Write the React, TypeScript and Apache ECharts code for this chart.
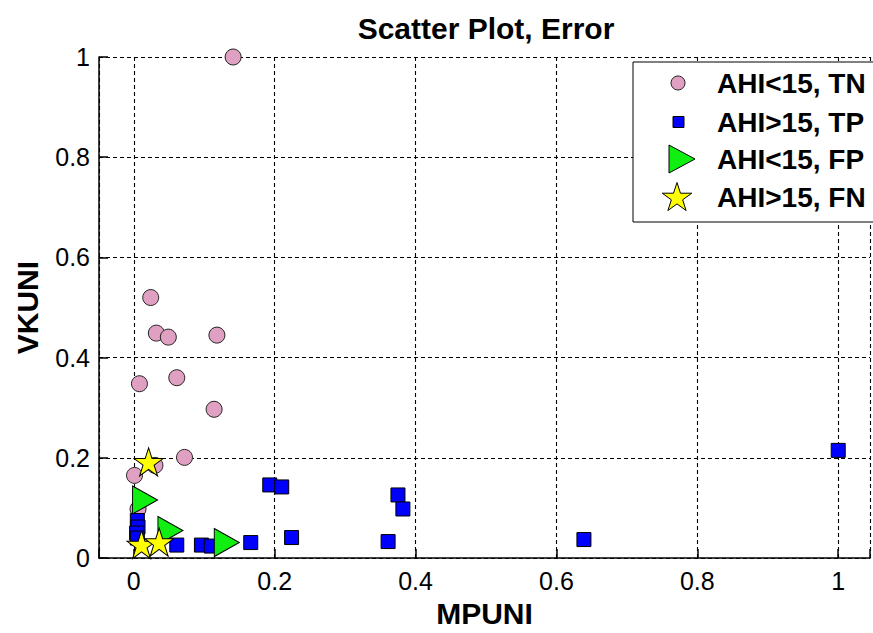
import React, { useEffect, useRef } from "react";
import * as echarts from "echarts";

const TITLE = "Scatter Plot, Error";
const X_NAME = "MPUNI";
const Y_NAME = "VKUNI";
const SERIES_NAMES = ["AHI<15, TN", "AHI>15, TP", "AHI<15, FP", "AHI>15, FN"];

const tnX = [0.141, 0.024, 0.032, 0.049, 0.118, 0.008, 0.061, 0.114, 0.072, 0.001, 0.006, 0.03];
const tnY = [1.0, 0.52, 0.449, 0.441, 0.445, 0.348, 0.36, 0.297, 0.201, 0.165, 0.098, 0.185];

const tpX = [0.193, 0.21, 0.061, 0.096, 0.11, 0.166, 0.224, 0.375, 0.382, 0.361, 0.639, 1.0, 0.005, 0.006, 0.004, 0.005];
const tpY = [0.146, 0.142, 0.026, 0.026, 0.024, 0.031, 0.041, 0.126, 0.098, 0.033, 0.037, 0.215, 0.075, 0.062, 0.05, 0.04];

const fpX = [0.016, 0.052, 0.132];
const fpY = [0.116, 0.055, 0.031];

const fnX = [0.021, 0.011, 0.036];
const fnY = [0.192, 0.027, 0.032];

const Y_TICKS = [0, 0.2, 0.4, 0.6, 0.8, 1];
const X_MIN = -0.0494;
const X_MAX = 1.0451;

const FONT = '"Liberation Sans", Arial, sans-serif';
const PINK = "#e0a0c2";
const BLUE = "#0000ff";
const GREEN = "#11ee11";
const YELLOW = "#ffff00";

const STAR_PATH =
  "path://M0,-1L0.2245,-0.309L0.9511,-0.309L0.3633,0.118L0.5878,0.809L0,0.382L-0.5878,0.809L-0.3633,0.118L-0.9511,-0.309L-0.2245,-0.309Z";
const TRI_PATH = "path://M0,0L0.93,0.5L0,1Z";

function zip(xs: number[], ys: number[]) {
  return xs.map((x, i) => [x, ys[i]]);
}

function starPoints(cx: number, cy: number, r: number) {
  const pts: number[][] = [];
  for (let i = 0; i < 10; i++) {
    const a = ((-90 + i * 36) * Math.PI) / 180;
    const rr = i % 2 === 0 ? r : r * 0.382;
    pts.push([cx + rr * Math.cos(a), cy + rr * Math.sin(a)]);
  }
  return pts;
}

function fmtX(v: number) {
  const r = Math.round(v * 10) / 10;
  if (Math.abs(v - r) > 1e-6 || r < 0 || r > 1) return "";
  return String(r);
}

export default function App() {
  const ref = useRef<HTMLDivElement>(null);
  useEffect(() => {
    if (!ref.current) return;
    const chart = echarts.init(ref.current, null, { renderer: "svg" });
    const axisLine = { onZero: false, lineStyle: { color: "#000", width: 1.5 } };
    const axisTick = { inside: true, length: 9, lineStyle: { color: "#000", width: 1.5 } };
    const splitLine = { show: true, lineStyle: { type: [4, 3], color: "#000", width: 1.1 } };
    const nameStyle = { fontFamily: FONT, fontSize: 30, fontWeight: "bold", color: "#000" };
    const labelStyle = { fontFamily: FONT, fontSize: 25, color: "#000" };
    const rowsY = [83, 122, 159, 197];
    const legendItems: any[] = [
      {
        type: "rect",
        shape: { x: 633, y: 62, width: 260, height: 160 },
        style: { fill: "#fff", stroke: "#000", lineWidth: 1 },
        z: 100,
      },
      { type: "circle", shape: { cx: 678, cy: rowsY[0], r: 7 }, style: { fill: PINK, stroke: "#222", lineWidth: 1 }, z: 101 },
      { type: "rect", shape: { x: 673, y: rowsY[1] - 5.5, width: 11, height: 11 }, style: { fill: BLUE, stroke: "#000", lineWidth: 1 }, z: 101 },
      {
        type: "polygon",
        shape: { points: [[669, rowsY[2] - 14], [695, rowsY[2]], [669, rowsY[2] + 14]] },
        style: { fill: GREEN, stroke: "#000", lineWidth: 1 },
        z: 101,
      },
      {
        type: "polygon",
        shape: { points: starPoints(677, rowsY[3] + 1, 15.5) },
        style: { fill: YELLOW, stroke: "#000", lineWidth: 1 },
        z: 101,
      },
    ];
    SERIES_NAMES.forEach((n, i) => {
      legendItems.push({
        type: "text",
        x: 717,
        y: rowsY[i],
        z: 101,
        style: {
          text: n,
          fontFamily: FONT,
          fontSize: 28,
          fontWeight: "bold",
          fill: "#000",
          verticalAlign: "middle",
          align: "left",
        },
      });
    });

    chart.setOption({
      animation: false,
      backgroundColor: "#fff",
      title: {
        text: TITLE,
        left: 481,
        top: 8,
        textAlign: "center",
        textStyle: { fontFamily: FONT, fontSize: 30, fontWeight: "bold", color: "#000" },
      },
      grid: { left: 99, right: -2, top: 57, bottom: 68 },
      xAxis: {
        type: "value",
        min: X_MIN,
        max: X_MAX,
        splitNumber: 5,
        minInterval: 0.2,
        maxInterval: 0.2,
        name: X_NAME,
        nameLocation: "middle",
        nameGap: 33,
        nameTextStyle: nameStyle,
        axisLine,
        axisTick,
        axisLabel: { ...labelStyle, margin: 10, formatter: (v: number) => fmtX(v) },
        splitLine,
      },
      yAxis: {
        type: "value",
        min: Y_TICKS[0],
        max: Y_TICKS[Y_TICKS.length - 1],
        interval: 0.2,
        name: Y_NAME,
        nameLocation: "middle",
        nameGap: 57,
        nameTextStyle: nameStyle,
        axisLine,
        axisTick,
        axisLabel: { ...labelStyle, margin: 9 },
        splitLine,
      },
      graphic: legendItems,
      series: [
        {
          name: SERIES_NAMES[0],
          type: "scatter",
          data: zip(tnX, tnY),
          symbol: "circle",
          symbolSize: 16,
          itemStyle: { color: PINK, borderColor: "#222", borderWidth: 1, opacity: 1 },
          z: 2,
        },
        {
          name: SERIES_NAMES[1],
          type: "scatter",
          data: zip(tpX, tpY),
          symbol: "rect",
          symbolSize: 14,
          itemStyle: { color: BLUE, borderColor: "#000", borderWidth: 1, opacity: 1 },
          z: 3,
        },
        {
          name: SERIES_NAMES[2],
          type: "scatter",
          data: zip(fpX, fpY),
          symbol: TRI_PATH,
          symbolSize: [25, 28],
          symbolKeepAspect: false,
          itemStyle: { color: GREEN, borderColor: "#000", borderWidth: 1, opacity: 1 },
          z: 4,
        },
        {
          name: SERIES_NAMES[3],
          type: "scatter",
          data: zip(fnX, fnY),
          symbol: STAR_PATH,
          symbolSize: [29, 28],
          itemStyle: { color: YELLOW, borderColor: "#000", borderWidth: 1, opacity: 1 },
          z: 5,
        },
      ],
    });
    return () => chart.dispose();
  }, []);
  return (
    <div
      ref={ref}
      style={{ position: "absolute", left: 0, top: 0, width: 873, height: 633, overflow: "hidden" }}
    />
  );
}
